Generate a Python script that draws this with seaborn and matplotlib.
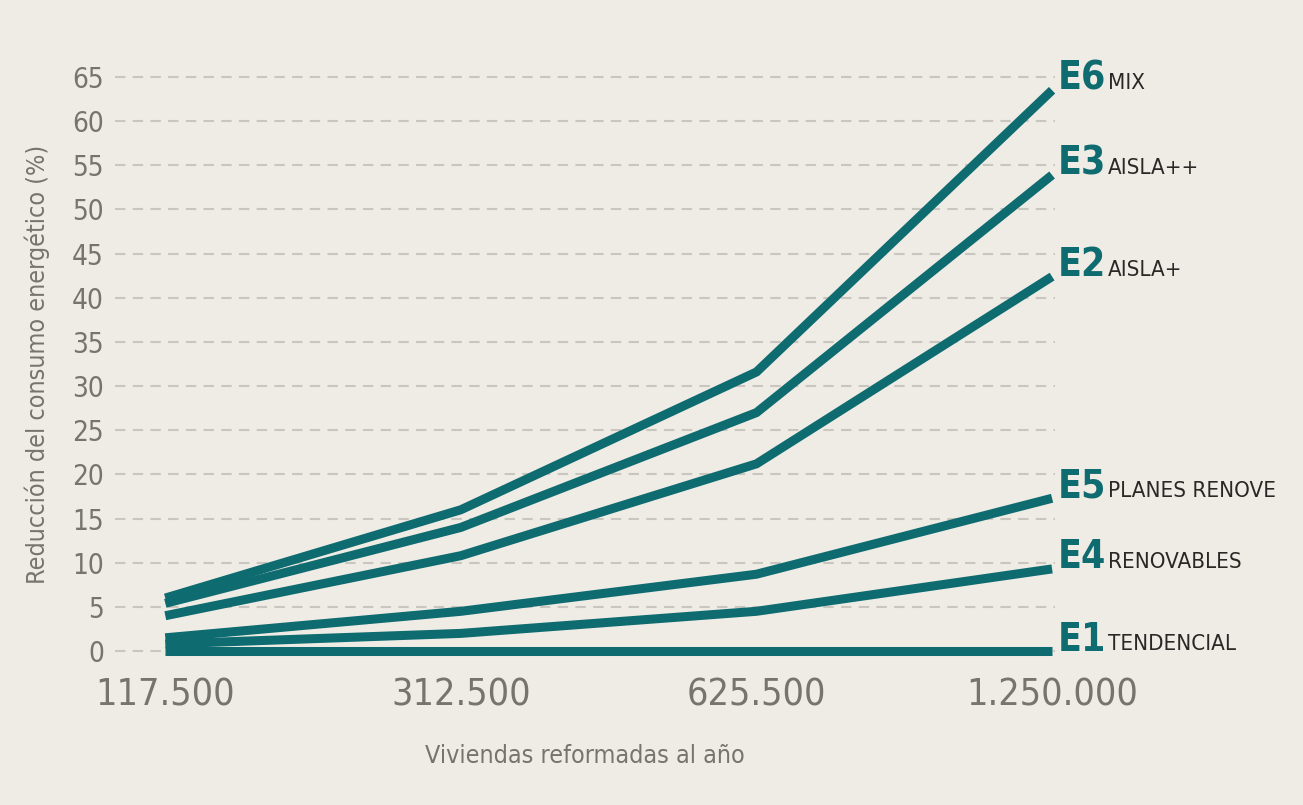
import pandas as pd
import matplotlib.pyplot as plt
import seaborn as sns

# --- Data ---
viviendas = ['117.500', '312.500', '625.500', '1.250.000']
codigos = ['E6', 'E3', 'E2', 'E5', 'E4', 'E1']
nombres = ['MIX', 'AISLA++', 'AISLA+', 'PLANES RENOVE', 'RENOVABLES', 'TENDENCIAL']
e6 = [6.0, 16.0, 31.6, 63.5]
e3 = [5.4, 14.0, 27.0, 53.9]
e2 = [4.0, 10.8, 21.2, 42.4]
e5 = [1.5, 4.5, 8.7, 17.3]
e4 = [0.8, 2.0, 4.5, 9.3]
e1 = [0.0, 0.0, 0.0, 0.0]
series = [e6, e3, e2, e5, e4, e1]

rows = []
for cod, vals in zip(codigos, series):
    for i, v in enumerate(vals):
        rows.append({'escenario': cod, 'pos': i, 'valor': v})
df = pd.DataFrame(rows)

# --- Style ---
BG = '#EFECE5'
TEAL = '#0E6B70'
GREY = '#77736F'
sns.set_style('white')
plt.rcParams['font.family'] = ['DejaVu Sans']
plt.rcParams['font.stretch'] = 'condensed'

fig = plt.figure(figsize=(13.03, 8.05), dpi=100, facecolor=BG)
ax = fig.add_axes([0.0883, 0.1693, 0.7214, 0.757])
ax.set_facecolor(BG)

for y in range(0, 70, 5):
    ax.axhline(y, color='#C9C6C0', lw=1.5, ls=(0, (5, 3.5)), zorder=0)

sns.lineplot(data=df, x='pos', y='valor', units='escenario', estimator=None,
             color=TEAL, lw=6.5, ax=ax, legend=False, zorder=3,
             solid_capstyle='butt', solid_joinstyle='miter')

ax.set_xlim(-0.17, 3.01)
ax.set_ylim(-2, 67)
ax.set_xticks(range(len(viviendas)))
ax.set_xticklabels(viviendas, fontsize=27, color=GREY)
ax.set_yticks(range(0, 70, 5))
ax.tick_params(axis='y', labelsize=20, labelcolor=GREY, length=0, pad=8)
ax.tick_params(axis='x', length=0, pad=6)
for s in ax.spines.values():
    s.set_visible(False)

ax.set_xlabel('Viviendas reformadas al año', fontsize=18, color=GREY, labelpad=22)
ax.set_ylabel('Reducción del consumo energético (%)', fontsize=18, color=GREY, labelpad=16)

# end labels
for cod, nom, vals in zip(codigos, nombres, series):
    ax.text(3.02, vals[-1] + 1.3, cod, fontsize=28, fontweight='bold', color=TEAL,
            va='center', ha='left', clip_on=False)
    ax.text(3.19, vals[-1] + 0.8, nom, fontsize=16, color='#2A2826',
            va='center', ha='left', clip_on=False)

fig.savefig('out.png', dpi=100, facecolor=BG)
